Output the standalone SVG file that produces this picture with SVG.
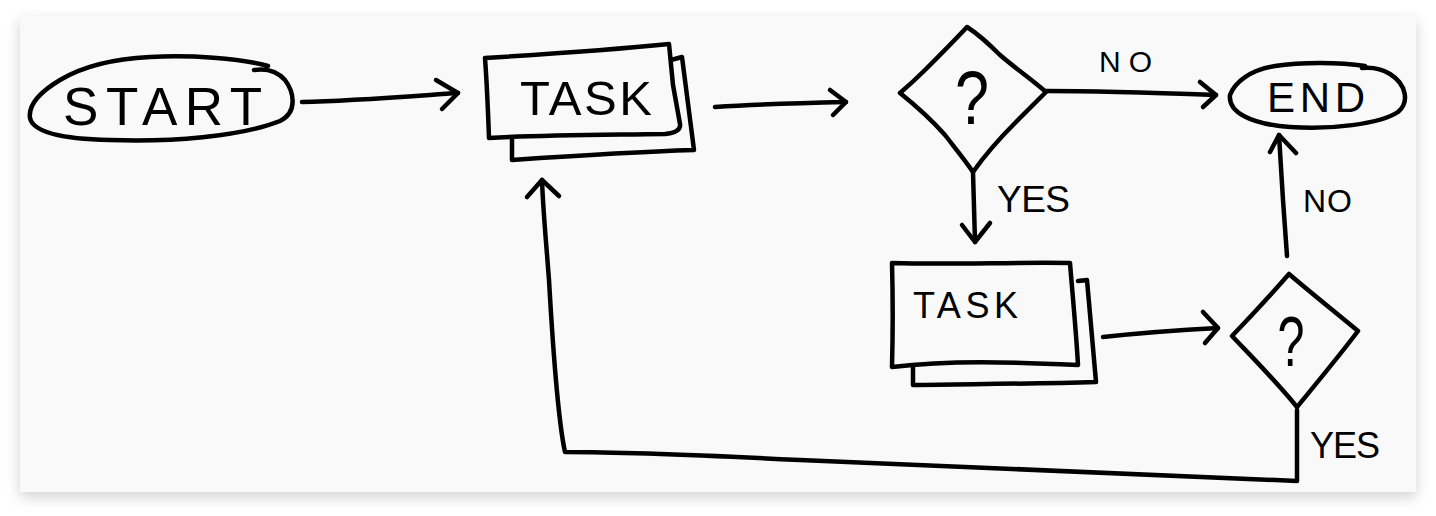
<svg xmlns="http://www.w3.org/2000/svg" width="1436" height="516" viewBox="0 0 1436 516">
  <defs>
    <filter id="shadow" x="-5%" y="-10%" width="110%" height="125%">
      <feDropShadow dx="0" dy="5" stdDeviation="7" flood-color="#000" flood-opacity="0.18"/>
    </filter>
  </defs>
  <style>
    .ink { fill: none; stroke: #000; stroke-width: 4.5; stroke-linecap: round; stroke-linejoin: round; }
    .shape { fill: #f9f9f9; stroke: #000; stroke-width: 4.5; stroke-linecap: round; stroke-linejoin: round; }
    .lbl { font-family: "Liberation Sans", "DejaVu Sans", sans-serif; fill: #000; }
  </style>
  <rect x="0" y="0" width="1436" height="516" fill="#ffffff"/>
  <rect x="20" y="16" width="1396" height="476" fill="#f9f9f9" filter="url(#shadow)"/>

  <g id="connectors">
    <path class="ink" d="M 302,102 C 350,101 400,97 458,93"/>
    <path class="ink" d="M 436,80 L 458,93 L 442,109"/>
    <path class="ink" d="M 715,107 C 760,104 800,103 846,102"/>
    <path class="ink" d="M 830,90 L 846,102 L 833,115"/>
    <path class="ink" d="M 1046,91 C 1100,91 1160,93 1216,95"/>
    <path class="ink" d="M 1200,82 L 1216,95 L 1203,107"/>
    <path class="ink" d="M 973,172 L 975,242"/>
    <path class="ink" d="M 962,225 L 975,242 L 990,223"/>
    <path class="ink" d="M 1103,337 C 1140,333 1180,330 1218,328"/>
    <path class="ink" d="M 1203,312 L 1218,328 L 1205,343"/>
    <path class="ink" d="M 1287,256 L 1283,200 L 1279,135"/>
    <path class="ink" d="M 1270,152 L 1279,135 L 1296,153"/>
    <path class="ink" d="M 1297,410 L 1297,481 C 1200,477 1000,470 800,460 C 700,455 600,452 565,452 C 558,420 553,350 549,280 C 546,240 543,210 542,180"/>
    <path class="ink" d="M 527,197 L 542,180 L 559,196"/>
    <text class="lbl" x="1099" y="72" font-size="30" textLength="53" lengthAdjust="spacing">NO</text>
    <text class="lbl" x="997" y="212" font-size="37" textLength="73" lengthAdjust="spacing">YES</text>
    <text class="lbl" x="1303" y="212" font-size="32" textLength="49" lengthAdjust="spacing">NO</text>
    <text class="lbl" x="1310" y="458" font-size="36" textLength="70" lengthAdjust="spacing">YES</text>
  </g>

  <g id="start">
    <path class="ink" d="M 268,66 C 240,58 190,55 150,57 C 110,59 80,68 60,80 C 40,92 28,104 30,118 C 33,132 62,139 110,140 C 170,142 240,137 280,121 C 298,112 294,92 285,80 C 278,72 268,68 254,70"/>
    <text class="lbl" x="63" y="125" font-size="53" textLength="199" lengthAdjust="spacing">START</text>
  </g>

  <g id="task1">
    <path class="shape" d="M 671,60 L 682,57 L 694,150 C 630,152 570,156 512,160 L 512,138"/>
    <path class="shape" d="M 485,58 C 550,54 610,50 669,44 L 673,85 L 680,124 C 681,130 675,133 665,134 C 600,135 540,135 489,138 C 488,110 487,85 485,58 Z"/>
    <text class="lbl" x="520" y="115" font-size="49" textLength="132" lengthAdjust="spacing">TASK</text>
  </g>

  <g id="decision1">
    <path class="shape" d="M 967,27 C 955,40 940,55 925,70 C 915,80 907,87 900,93 C 915,105 930,118 945,135 C 955,148 965,160 973,172 C 985,155 1000,138 1015,123 C 1028,110 1040,98 1046,92 C 1030,78 1015,68 1000,55 C 990,45 978,34 967,27 Z"/>
    <text class="lbl" x="972" y="124" font-size="76" text-anchor="middle" textLength="34" lengthAdjust="spacingAndGlyphs">?</text>
  </g>

  <g id="end">
    <path class="ink" d="M 1365,66 C 1340,62 1300,62 1275,66 C 1250,70 1235,82 1230,95 C 1228,112 1250,124 1290,127 C 1330,130 1380,124 1398,112 C 1410,102 1406,84 1390,74 C 1382,69 1372,67 1362,68"/>
    <text class="lbl" x="1267" y="112" font-size="42" textLength="98" lengthAdjust="spacing">END</text>
  </g>

  <g id="task2">
    <path class="shape" d="M 1078,281 L 1087,280 L 1096,382 C 1030,384 970,384 913,385 L 913,367"/>
    <path class="shape" d="M 892,263 C 950,265 1010,262 1070,263 C 1073,300 1076,330 1078,365 C 1010,362 950,360 892,367 C 893,330 893,300 892,263 Z"/>
    <text class="lbl" x="913" y="318" font-size="36" textLength="105" lengthAdjust="spacing">TASK</text>
  </g>

  <g id="decision2">
    <path class="shape" d="M 1289,274 C 1275,290 1255,312 1232,336 C 1250,355 1275,380 1297,407 C 1315,385 1340,355 1358,331 C 1335,312 1310,292 1289,274 Z"/>
    <text class="lbl" x="1291" y="366" font-size="70" text-anchor="middle" textLength="27" lengthAdjust="spacingAndGlyphs">?</text>
  </g>
</svg>
